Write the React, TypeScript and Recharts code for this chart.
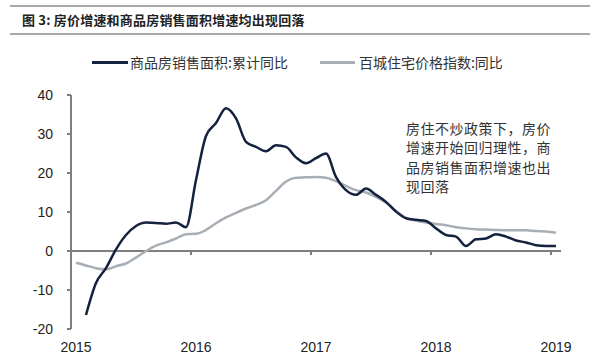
import { LineChart, Line, XAxis, YAxis, ReferenceLine, Legend } from "recharts";

// month index from Jan 2015 (0) to Jan 2019 (48)
const months = Array.from({ length: 49 }, (_, k) => k);
const years = ["2015", "2016", "2017", "2018", "2019"];
const yearTicks = [0, 12, 24, 36, 48];
const yTicks = [-20, -10, 0, 10, 20, 30, 40];

// 商品房销售面积:累计同比 (starts Feb 2015)
const salesArea = [
  null, -16.4, -8.2, -4.4, 0.4, 4.1, 6.4, 7.3, 7.2, 7.0, 7.3, 6.1,
  18.2, 29.5, 32.8, 36.6, 34.0, 28.0, 26.7, 25.6, 27.1, 26.7, 24.0, 22.5,
  23.8, 25.0, 19.0, 15.6, 14.4, 16.0, 14.4, 12.6, 10.1, 8.4, 8.0, 7.7,
  5.8, 4.1, 3.7, 1.3, 3.0, 3.2, 4.3, 3.7, 2.7, 2.2, 1.5, 1.3, 1.3,
];

// 百城住宅价格指数:同比
const priceIndex = [
  -3.0, -3.7, -4.4, -4.7, -3.9, -3.2, -1.7, 0.0, 1.4, 2.2, 3.2, 4.3,
  4.4, 5.4, 7.1, 8.6, 9.8, 10.9, 11.8, 13.0, 15.4, 17.8, 18.8, 18.9,
  19.0, 18.8, 17.9, 16.7, 15.6, 15.0, 13.9, 12.4, 10.3, 8.5, 7.8, 7.3,
  6.9, 6.6, 6.1, 5.8, 5.6, 5.5, 5.4, 5.3, 5.3, 5.3, 5.1, 5.0, 4.7,
];

const data = months.map((k) => ({
  x: k + 0.5,
  sales: salesArea[k],
  price: priceIndex[k],
}));

const DARK = "#14213f";
const GRAY = "#a7aeb5";
const AXIS = "#7f7f7f";
const SANS = "'Liberation Sans', Arial, sans-serif";
const CJK = "'Noto Sans CJK SC', sans-serif";

const LegendBox = () => (
  <div style={{ display: "flex", alignItems: "center", fontFamily: CJK, fontSize: 14, color: "#333", paddingLeft: 92 }}>
    <span style={{ width: 36, height: 3, background: DARK, display: "inline-block" }} />
    <span style={{ marginLeft: 2 }}>商品房销售面积:累计同比</span>
    <span style={{ width: 35, height: 3, background: GRAY, display: "inline-block", marginLeft: 32 }} />
    <span style={{ marginLeft: 4 }}>百城住宅价格指数:同比</span>
  </div>
);

export default function App() {
  return (
    <div style={{ position: "absolute", left: 0, top: 0, width: 600, height: 362, background: "#fff" }}>
      <div style={{ position: "absolute", left: 10, top: 5, width: 580, height: 2, background: "#a9a9a9" }} />
      <div style={{ position: "absolute", left: 22, top: 11, fontFamily: CJK, fontSize: 13, fontWeight: 700, color: "#222", lineHeight: "18px", letterSpacing: 0.2 }}>
        图 3: 房价增速和商品房销售面积增速均出现回落
      </div>
      <div style={{ position: "absolute", left: 10, top: 33, width: 580, height: 2, background: "#a9a9a9" }} />
      <LineChart width={600} height={362} data={data} margin={{ top: 95, right: 39, bottom: 8, left: 0 }}>
        <XAxis
          dataKey="x"
          type="number"
          domain={[0, 49]}
          ticks={yearTicks}
          tickFormatter={(v: number) => years[yearTicks.indexOf(v)]}
          axisLine={false}
          tickLine={false}
          tickMargin={7}
          height={25}
          tick={{ fontSize: 14, fill: "#222", fontFamily: SANS, dx: 5 }}
        />
        <YAxis
          domain={[-20, 40]}
          ticks={yTicks}
          width={71}
          axisLine={{ stroke: AXIS, strokeWidth: 2 }}
          tickLine={{ stroke: AXIS, strokeWidth: 2 }}
          tickSize={4}
          tickMargin={14}
          tick={{ fontSize: 14, fill: "#222", fontFamily: SANS }}
        />
        <ReferenceLine y={0} stroke={AXIS} strokeWidth={2} />
        {yearTicks.slice(1).map((t) => (
          <ReferenceLine key={t} segment={[{ x: t, y: 0 }, { x: t, y: -1 }]} stroke={AXIS} strokeWidth={2} />
        ))}
        <Legend
          verticalAlign="middle"
          align="center"
          content={<LegendBox />}
          wrapperStyle={{ top: 52, left: 0, width: 600 }}
        />
        <Line type="monotone" dataKey="price" stroke={GRAY} strokeWidth={2.5} dot={false} isAnimationActive={false} />
        <Line type="monotone" dataKey="sales" stroke={DARK} strokeWidth={2.5} dot={false} isAnimationActive={false} connectNulls={false} />
      </LineChart>
      <div style={{ position: "absolute", left: 406, top: 119, fontFamily: CJK, fontSize: 14, lineHeight: "19.3px", color: "#333", letterSpacing: 0.5, whiteSpace: "pre" }}>
        {"房住不炒政策下，房价\n增速开始回归理性，商\n品房销售面积增速也出\n现回落"}
      </div>
    </div>
  );
}
